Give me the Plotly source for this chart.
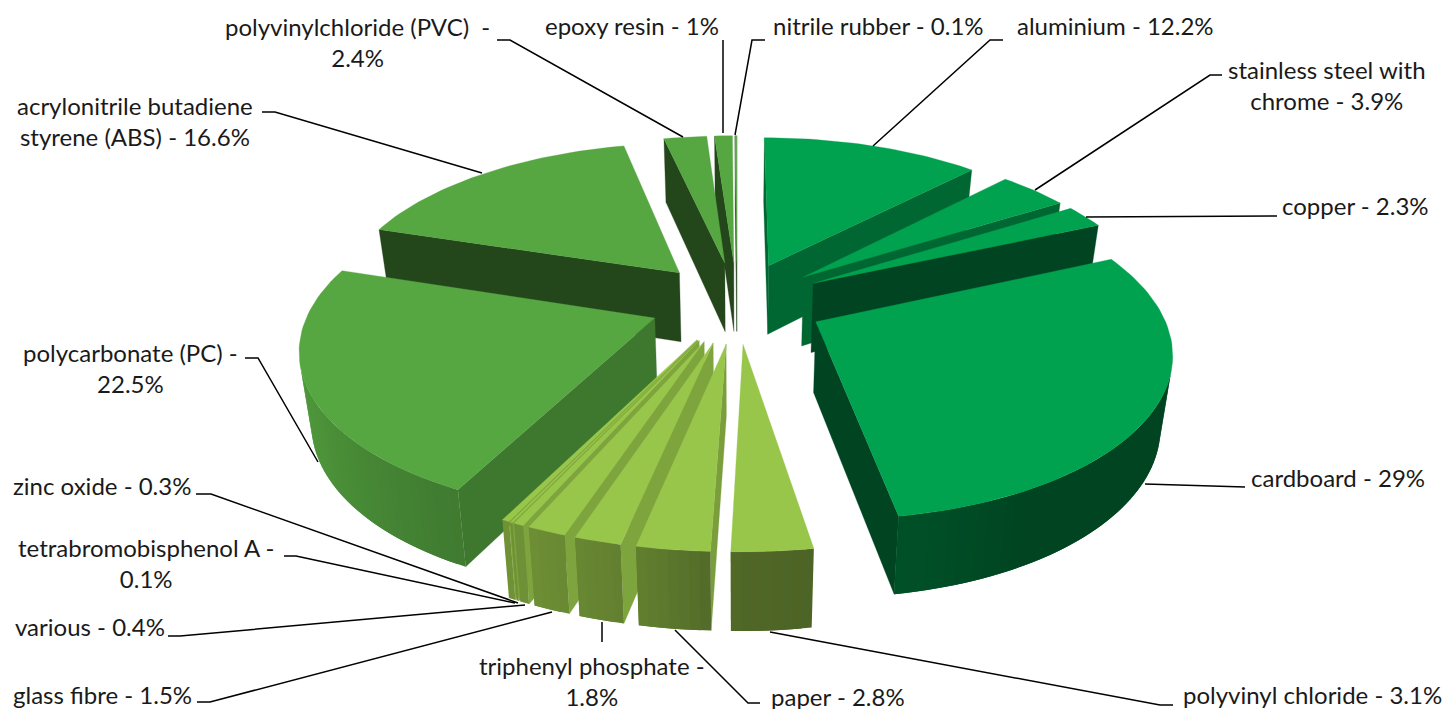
import numpy as np
import plotly.graph_objects as go

# ---- data (clockwise from 12 o'clock) ----
NAMES = ["aluminium", "stainless steel", "copper", "cardboard", "polyvinyl chloride", "paper",
         "triphenyl phosphate", "glass fibre", "various", "tetrabromobisphenol A", "zinc oxide",
         "polycarbonate (PC)", "acrylonitrile butadiene styrene (ABS)", "polyvinylchloride (PVC)",
         "epoxy resin", "nitrile rubber"]
VALUES = [12.2, 3.9, 2.3, 29, 3.1, 2.8, 1.8, 1.5, 0.4, 0.1, 0.3, 22.5, 16.6, 2.4, 1, 0.1]
LABELS = ["aluminium - 12.2%", "stainless steel with<br>chrome - 3.9%", "copper - 2.3%", "cardboard - 29%",
          "polyvinyl chloride - 3.1%", "paper - 2.8%", "triphenyl phosphate -<br>1.8%", "glass fibre - 1.5%",
          "various - 0.4%", "tetrabromobisphenol A -<br>0.1%", "zinc oxide - 0.3%",
          "polycarbonate (PC) -<br>22.5%", "acrylonitrile butadiene<br>styrene (ABS) - 16.6%",
          "polyvinylchloride (PVC)  -<br>2.4%", "epoxy resin - 1%", "nitrile rubber - 0.1%"]

# ---- styles ----
TOP = ["#00A14F"] * 4 + ["#98C64A"] * 7 + ["#56A641"] * 5
WALL = [.64, .64, .42, .42, .80, .80, .83, .83, .83, .83, .83, .72, .42, .42, .42, .42]
RIM_ANG = [60, 150, 170, 180, 190, 205, 240, 270, 360]
RIM_M = [.42, .42, .50, .52, .63, .73, .88, .96, .96]

# label centres and leader polylines, in page pixels
LABEL_POS = [(1115, 25), (1327, 85), (1355, 205), (1338, 477), (1312, 694), (838, 696), (592, 681), (102, 694),
             (90, 626), (146, 563), (102, 485), (130, 368), (135, 121), (357, 42), (632, 25), (878, 25)]
LEADERS = [[(1003, 40), (990, 40), (873, 146)], [(1222, 75), (1210, 75), (1035, 190)], [(1277, 216), (1086, 217)],
           [(1245, 487), (1145, 484)], [(1173, 705), (1160, 705), (770, 632)], [(760, 703), (748, 703), (675, 630)],
           [(602, 642), (602, 622)], [(197, 702), (210, 702), (552, 612)], [(168, 636), (180, 636), (525, 605)],
           [(284, 556), (296, 556), (515, 603)], [(196, 494), (211, 494), (518, 603)], [(245, 358), (258, 358), (318, 462)],
           [(262, 112), (275, 112), (482, 173)], [(497, 40), (510, 40), (683, 137)], [(723, 40), (723, 133)],
           [(765, 40), (752, 40), (735, 135)]]

# ---- projection ----
CX, CY, AX, BY, K, EXPL = 737, 302, 343, 159, .16, .256
BOT_SCALE = .972


def project(px, py, bottom=False):
    w = 1 + K * py
    sx, sy = AX * px / w, -BY * py / w
    if bottom:
        sx, sy = sx * BOT_SCALE, sy * BOT_SCALE + 70 / (1 + .15 * py)
    return CX + sx, CY + sy


def shade(hex_col, m):
    r, g, b = (int(hex_col[i:i + 2], 16) for i in (1, 3, 5))
    return f"rgb({r * m:.0f},{g * m:.0f},{b * m:.0f})"


def poly(fig, xs, ys, color, lw=0.6):
    fig.add_trace(go.Scatter(x=list(xs), y=list(ys), mode="lines", fill="toself", fillcolor=color,
                             line=dict(color=color, width=lw), hoverinfo="skip", showlegend=False))


def cross(ax, ay, bx, by):
    return ax * by - ay * bx


fig = go.Figure()
edges = np.cumsum([0] + VALUES) / sum(VALUES) * 2 * np.pi
mids = (edges[:-1] + edges[1:]) / 2

for i in sorted(range(len(VALUES)), key=lambda j: -np.cos(mids[j])):
    a0, a1, mid = edges[i], edges[i + 1], mids[i]
    ox, oy = EXPL * np.sin(mid), EXPL * np.cos(mid)
    th = np.linspace(a0, a1, max(2, int(np.degrees(a1 - a0) / 1.5) + 2))
    rx, ry = ox + np.sin(th), oy + np.cos(th)
    tx, ty = project(rx, ry)
    bx, by = project(rx, ry, True)
    t0x, t0y = project(ox, oy)
    b0x, b0y = project(ox, oy, True)
    wall = shade(TOP[i], WALL[i])
    # radial walls that face the viewer
    for k, sgn in ((0, -1), (-1, 1)):
        c = cross(tx[k] - t0x, ty[k] - t0y, bx[k] - tx[k], by[k] - ty[k])
        if c * sgn > 0:
            poly(fig, [t0x, tx[k], bx[k], b0x, t0x], [t0y, ty[k], by[k], b0y, t0y], wall, 0.3)
    # outer rim, shaded by facing angle; each strip overlaps the next so no seams show
    n = len(th)
    for k in range(n - 1):
        if cross(tx[k + 1] - tx[k], ty[k + 1] - ty[k], bx[k] - tx[k], by[k] - ty[k]) >= 0:
            continue
        j = min(k + 2, n - 1)
        ang = np.degrees((th[k] + th[k + 1]) / 2)
        c = shade(TOP[i], float(np.interp(ang, RIM_ANG, RIM_M)))
        poly(fig, [tx[k], tx[j], bx[j], bx[k], tx[k]], [ty[k], ty[j], by[j], by[k], ty[k]], c, 0)
    # top face
    poly(fig, [t0x, *tx, t0x], [t0y, *ty, t0y], TOP[i], 0.3)

# leaders and labels
for pts in LEADERS:
    fig.add_trace(go.Scatter(x=[p[0] for p in pts], y=[p[1] for p in pts], mode="lines",
                             line=dict(color="black", width=1.5), hoverinfo="skip", showlegend=False))
for text, (x, y) in zip(LABELS, LABEL_POS):
    fig.add_annotation(x=x, y=y, text=text, showarrow=False, xanchor="center", yanchor="middle", align="center",
                       font=dict(family="Lato", size=24, color="#1a1a1a"))

fig.update_layout(width=1446, height=709, margin=dict(l=0, r=0, t=0, b=0), showlegend=False,
                  paper_bgcolor="white", plot_bgcolor="white",
                  xaxis=dict(range=[0, 1446], visible=False, fixedrange=True),
                  yaxis=dict(range=[709, 0], visible=False, fixedrange=True))
fig.write_html("out.html", config={"displayModeBar": False}, post_script="document.body.style.margin='0';")
